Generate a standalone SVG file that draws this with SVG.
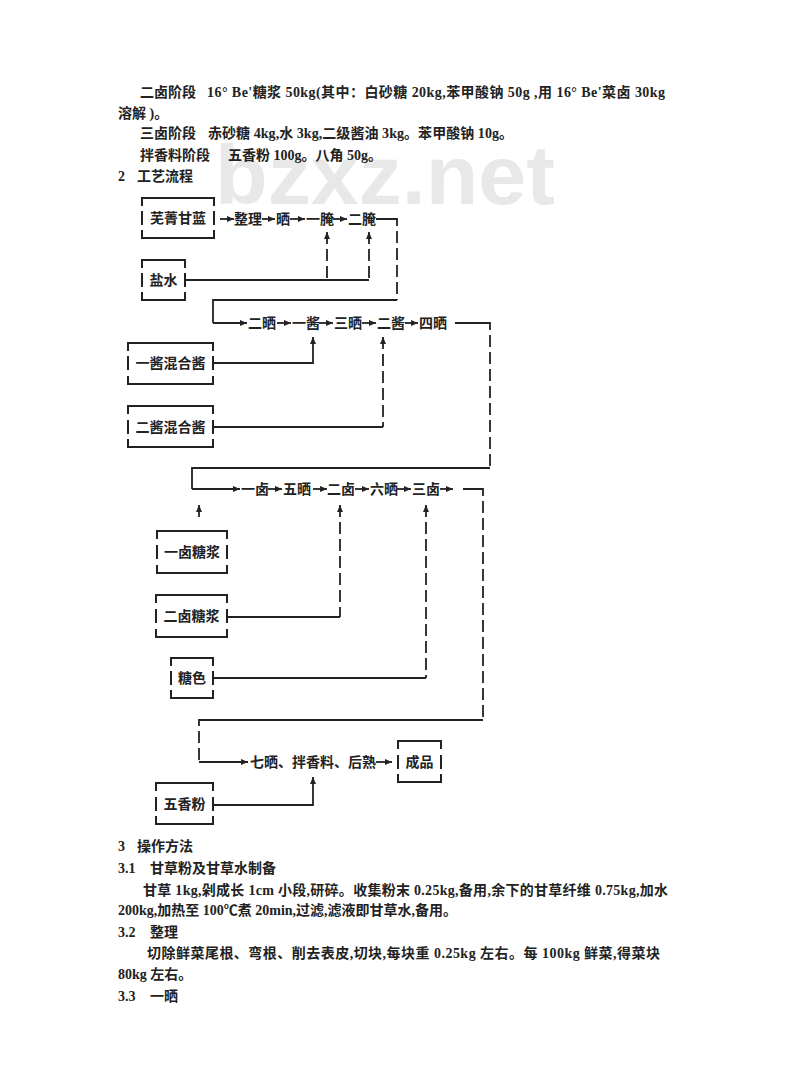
<svg xmlns="http://www.w3.org/2000/svg" width="800" height="1091" viewBox="0 0 800 1091">
<defs>
<marker id="ah" markerUnits="userSpaceOnUse" markerWidth="7" markerHeight="6" refX="7" refY="3" orient="auto-start-reverse"><path d="M0,0 L7,3 L0,6 z" fill="#222"/></marker>
<style>
text{font-family:"Liberation Serif","Noto Sans CJK SC",serif;fill:#222;font-size:14px;font-weight:bold}
.wm{font-family:"Liberation Sans",Arial,sans-serif;fill:#e8e8e8;font-size:84px;font-weight:bold}
.lab{text-anchor:middle}
.box{fill:none;stroke:#222;stroke-width:2}
.c{fill:none;stroke:#222;stroke-width:1.8}
.d{stroke-dasharray:12 5}
.a{marker-end:url(#ah)}
.u{marker-start:url(#ah)}
</style>
</defs>
<rect width="800" height="1091" fill="#fff"/>
<text class="wm" x="215" y="204" textLength="340" lengthAdjust="spacingAndGlyphs">bzxz.net</text>
<g id="intro">
<text x="140" y="97">二卤阶段</text>
<text x="207" y="97" textLength="458" lengthAdjust="spacing">16° Be'糖浆 50kg(其中：白砂糖 20kg,苯甲酸钠 50g ,用 16° Be'菜卤 30kg</text>
<text x="118" y="118">溶解 )。</text>
<text x="140" y="138">三卤阶段</text>
<text x="208" y="138" textLength="305" lengthAdjust="spacing">赤砂糖 4kg,水 3kg,二级酱油 3kg。苯甲酸钠 10g。</text>
<text x="140" y="160">拌香料阶段</text>
<text x="228" y="160">五香粉 100g。八角 50g。</text>
<text x="118" y="181">2</text><text x="137" y="181">工艺流程</text>
</g>
<g id="connectors">
<path class="c a" d="M220,219H234"/><path class="c a" d="M262,219H275"/><path class="c a" d="M290,219H305"/><path class="c a" d="M333,219H347"/>
<path class="c" d="M376,219H397V226"/><path class="c d" d="M397,231V300"/>
<path class="c" d="M186,280H369"/>
<path class="c d u" d="M327,232V280"/><path class="c d u" d="M369,232V280"/>
<path class="c" d="M397,300H213V323"/><path class="c a" d="M213,323H247"/>
<path class="c a" d="M277,323H291"/><path class="c a" d="M319,323H333"/><path class="c a" d="M362,323H376"/><path class="c a" d="M405,323H418"/>
<path class="c" d="M455,323H490V330"/><path class="c d" d="M490,335V468"/>
<path class="c u" d="M313,337V363H214"/>
<path class="c d u" d="M383,337V427"/><path class="c" d="M383,427H214"/>
<path class="c" d="M490,468H192V489"/><path class="c a" d="M192,489H240"/>
<path class="c a" d="M268,489H282"/><path class="c a" d="M313,489H327"/><path class="c a" d="M355,489H369"/><path class="c a" d="M397,489H411"/><path class="c a" d="M440,489H453"/>
<path class="c" d="M463,489H483V496"/><path class="c d" d="M483,501V720"/>
<path class="c u" d="M199,505V517"/>
<path class="c d u" d="M340,505V617"/><path class="c" d="M340,617H228"/>
<path class="c d u" d="M426,505V678"/><path class="c" d="M426,678H214"/>
<path class="c" d="M483,720H199V726"/><path class="c d" d="M199,731V762"/><path class="c a" d="M199,762H248"/>
<path class="c a" d="M376,762H392"/>
<path class="c u" d="M313,777V805H214"/>
</g>
<g id="n-wujing"><path class="box" d="M142,206V198H214V206M142,230V238H214V230M142,211V225M214,211V225"/><text class="lab" x="178" y="223">芜菁甘蓝</text></g>
<g id="n-yanshui"><path class="box" d="M142,268V260H185V268M142,292V300H185V292M142,273V287M185,273V287"/><text class="lab" x="163.5" y="285">盐水</text></g>
<g id="n-yijiang-mix"><path class="box" d="M128,351V343H213V351M128,376V384H213V376M128,356V370M213,356V370"/><text class="lab" x="170.5" y="368">一酱混合酱</text></g>
<g id="n-erjiang-mix"><path class="box" d="M128,414V406H213V414M128,439V447H213V439M128,420V434M213,420V434"/><text class="lab" x="170.5" y="432">二酱混合酱</text></g>
<g id="n-yilu-syrup"><path class="box" d="M157,539V531H227V539M157,565V573H227V565M157,545V559M227,545V559"/><text class="lab" x="192" y="557">一卤糖浆</text></g>
<g id="n-erlu-syrup"><path class="box" d="M156,603V595H227V603M156,629V637H227V629M156,609V623M227,609V623"/><text class="lab" x="191.5" y="621">二卤糖浆</text></g>
<g id="n-tangse"><path class="box" d="M171,666V658H213V666M171,690V698H213V690M171,671V685M213,671V685"/><text class="lab" x="192" y="683">糖色</text></g>
<g id="n-chengpin"><path class="box" d="M398,749V741H441V749M398,774V782H441V774M398,755V769M441,755V769"/><text class="lab" x="419.5" y="767">成品</text></g>
<g id="n-wuxiang"><path class="box" d="M156,791V783H213V791M156,816V824H213V816M156,797V811M213,797V811"/><text class="lab" x="184.5" y="809">五香粉</text></g>
<g id="n-zhengli"><text x="234" y="224">整理</text></g>
<g id="n-shai1"><text x="276" y="224">晒</text></g>
<g id="n-yiyan"><text x="306" y="224">一腌</text></g>
<g id="n-eryan"><text x="348" y="224">二腌</text></g>
<g id="n-ershai"><text x="248" y="328">二晒</text></g>
<g id="n-yijiang"><text x="292" y="328">一酱</text></g>
<g id="n-sanshai"><text x="334" y="328">三晒</text></g>
<g id="n-erjiang"><text x="377" y="328">二酱</text></g>
<g id="n-sishai"><text x="419" y="328">四晒</text></g>
<g id="n-yilu"><text x="241" y="494">一卤</text></g>
<g id="n-wushai"><text x="283" y="494">五晒</text></g>
<g id="n-erlu"><text x="327" y="494">二卤</text></g>
<g id="n-liushai"><text x="370" y="494">六晒</text></g>
<g id="n-sanlu"><text x="412" y="494">三卤</text></g>
<g id="n-qishai"><text x="250" y="767">七晒、拌香料、后熟</text></g>
<g id="methods">
<text x="118" y="851">3</text><text x="137" y="851">操作方法</text>
<text x="118" y="873">3.1</text><text x="150" y="873">甘草粉及甘草水制备</text>
<text x="143" y="895" textLength="525" lengthAdjust="spacing">甘草 1kg,剁成长 1cm 小段,研碎。收集粉末 0.25kg,备用,余下的甘草纤维 0.75kg,加水</text>
<text x="118" y="915">200kg,加热至 100℃煮 20min,过滤,滤液即甘草水,备用。</text>
<text x="118" y="937">3.2</text><text x="150" y="937">整理</text>
<text x="147" y="958" textLength="513" lengthAdjust="spacing">切除鲜菜尾根、弯根、削去表皮,切块,每块重 0.25kg 左右。每 100kg 鲜菜,得菜块</text>
<text x="118" y="979">80kg 左右。</text>
<text x="118" y="1001">3.3</text><text x="150" y="1001">一晒</text>
</g>
</svg>
